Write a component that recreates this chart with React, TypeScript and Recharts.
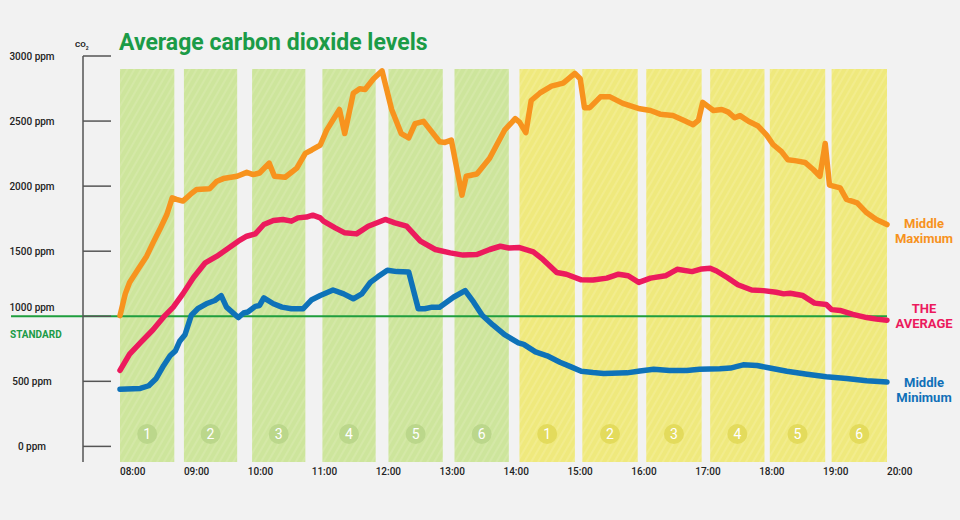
import { LabelList, Line, LineChart, ReferenceArea, ReferenceLine, XAxis, YAxis } from 'recharts';

// time = minutes after 08:00, value = ppm CO2
const maxPoints: [number, number][] = [
  [0, 1005], [5, 1174], [9, 1260], [17, 1361], [25, 1462], [31, 1564], [38, 1679], [44, 1782], [49, 1910],
  [53, 1898], [59, 1885], [66, 1936], [72, 1975], [84, 1979], [91, 2038], [97, 2058], [110, 2076], [119, 2106],
  [125, 2089], [131, 2101], [140, 2177], [145, 2076], [155, 2068], [166, 2139], [174, 2252], [180, 2278],
  [188, 2316], [194, 2430], [206, 2589], [211, 2404], [219, 2714], [225, 2748], [230, 2742], [238, 2825],
  [246, 2886], [255, 2589], [264, 2404], [271, 2371], [277, 2480], [285, 2498], [289, 2455], [300, 2341],
  [305, 2336], [311, 2354], [321, 1931], [325, 2076], [335, 2093], [347, 2214], [361, 2430], [371, 2519],
  [375, 2492], [381, 2411], [386, 2658], [394, 2714], [405, 2769], [416, 2792], [427, 2867], [432, 2825],
  [436, 2603], [441, 2603], [451, 2686], [460, 2686], [472, 2636], [488, 2594], [498, 2581], [507, 2553],
  [519, 2542], [529, 2506], [538, 2472], [543, 2506], [547, 2644], [557, 2581], [565, 2589], [571, 2569],
  [577, 2525], [582, 2542], [590, 2498], [599, 2462], [607, 2392], [613, 2320], [621, 2265], [627, 2202],
  [635, 2194], [643, 2182], [651, 2126], [657, 2076], [662, 2328], [666, 2008], [676, 1987], [682, 1898],
  [692, 1872], [701, 1795], [710, 1744], [720, 1705],
];

const avgPoints: [number, number][] = [
  [0, 584], [9, 709], [19, 796], [31, 896], [41, 995], [50, 1070], [59, 1172], [69, 1298], [80, 1411],
  [91, 1462], [100, 1513], [111, 1577], [119, 1615], [127, 1633], [135, 1705], [144, 1736], [153, 1744],
  [161, 1731], [167, 1756], [175, 1762], [181, 1777], [188, 1756], [191, 1731], [202, 1679], [211, 1641],
  [222, 1633], [233, 1692], [249, 1744], [258, 1718], [269, 1692], [282, 1577], [296, 1513], [310, 1487],
  [322, 1470], [335, 1475], [347, 1513], [357, 1538], [365, 1525], [375, 1528], [388, 1495], [397, 1437],
  [410, 1336], [419, 1323], [433, 1280], [444, 1278], [457, 1293], [468, 1323], [477, 1311], [487, 1260],
  [498, 1293], [512, 1311], [523, 1361], [537, 1343], [546, 1364], [554, 1369], [560, 1348], [570, 1298],
  [580, 1242], [593, 1202], [604, 1197], [616, 1184], [623, 1172], [629, 1177], [641, 1159], [652, 1101],
  [663, 1091], [668, 1051], [676, 1045], [688, 1015], [701, 990], [710, 978], [720, 970],
];

const minPoints: [number, number][] = [
  [0, 439], [19, 445], [27, 466], [34, 522], [41, 622], [47, 696], [52, 734], [56, 808], [61, 858],
  [67, 1008], [73, 1058], [81, 1096], [89, 1121], [95, 1159], [100, 1070], [111, 990], [116, 1025],
  [120, 1033], [127, 1076], [131, 1083], [135, 1141], [144, 1096], [152, 1070], [161, 1058], [172, 1058],
  [180, 1127], [188, 1159], [200, 1202], [210, 1172], [219, 1134], [227, 1172], [235, 1260], [242, 1303],
  [251, 1354], [260, 1343], [271, 1341], [280, 1058], [286, 1058], [293, 1070], [300, 1070], [313, 1146],
  [324, 1197], [332, 1108], [340, 1008], [350, 933], [361, 858], [374, 796], [379, 784], [390, 726],
  [401, 696], [413, 647], [424, 609], [433, 577], [444, 567], [454, 560], [476, 565], [488, 580],
  [501, 592], [516, 584], [532, 584], [544, 592], [563, 597], [573, 602], [585, 627], [598, 622],
  [610, 602], [626, 577], [645, 554], [663, 535], [682, 522], [701, 505], [720, 494],
];

const hourTicks = [0, 60, 120, 180, 240, 300, 360, 420, 480, 540, 600, 660, 720];
const hourLabels = ['08:00', '09:00', '10:00', '11:00', '12:00', '13:00', '14:00', '15:00', '16:00', '17:00', '18:00', '19:00', '20:00'];
const ppmTicks = [0, 500, 1000, 1500, 2000, 2500, 3000];
const standardPpm = 1000;

// lessons: morning shift (green) and afternoon shift (yellow)
const lessonStart = [0, 60, 124, 190, 252, 314, 375, 434, 494, 554, 610, 668];
const lessonEnd = [51, 110, 174, 240, 303, 365, 427, 486, 546, 605, 662, 720];
const lessonNo = [1, 2, 3, 4, 5, 6, 1, 2, 3, 4, 5, 6];
const lessonShift = ['am', 'am', 'am', 'am', 'am', 'am', 'pm', 'pm', 'pm', 'pm', 'pm', 'pm'];

const FONT = 'Roboto, "Open Sans", sans-serif';
const ORANGE = '#f7931e';
const PINK = '#ec1a5d';
const BLUE = '#0e72b8';
const GREEN = '#1b9b47';

const toRows = (pts: [number, number][]) => pts.map(([t, v]) => ({ t, v }));

function PpmTick({ x, y, payload }: any) {
  const lift = payload.value === standardPpm ? -9 : 0;
  return (
    <g>
      <line x1={x} x2={x + 28} y1={y} y2={y} stroke="#555" strokeWidth={1.5} />
      <text x={x - 51} y={y + lift} dy="0.35em" textAnchor="middle" fontFamily={FONT} fontSize={10} fontWeight={500} fill="#222">
        {payload.value} ppm
      </text>
    </g>
  );
}

function HourTick({ x, y, payload }: any) {
  return (
    <text x={x} y={y} dy="0.71em" textAnchor="start" fontFamily={FONT} fontSize={10} fontWeight={500} fill="#222">
      {hourLabels[hourTicks.indexOf(payload.value)]}
    </text>
  );
}

function endLabel(lines: string[], color: string, offsets: number[], last: number) {
  return (props: any) => {
    if (props.index !== last) return null;
    const px = props.x ?? props.viewBox?.x;
    const py = props.y ?? props.viewBox?.y;
    return (
      <g>
        {lines.map((s, i) => (
          <text key={s} x={px + 37} y={py + offsets[i]} dy="0.35em" textAnchor="middle" fontFamily={FONT} fontSize={13} fontWeight={700} fill={color}>
            {s}
          </text>
        ))}
      </g>
    );
  };
}

function LessonBadge(no: number, shift: string) {
  return (props: any) => {
    const vb = props.viewBox;
    const cx = vb.x + vb.width / 2;
    const cy = vb.y + vb.height - 28;
    return (
      <g>
        <circle cx={cx} cy={cy} r={10} fill={shift === 'am' ? '#bbd78b' : '#e3db5c'} />
        <text x={cx} y={cy} dy="0.36em" textAnchor="middle" fontFamily={FONT} fontSize={14} fill="#fff">
          {no}
        </text>
      </g>
    );
  };
}

export default function App() {
  return (
    <div style={{ position: 'absolute', left: 0, top: 0, width: 960, height: 520, background: '#f2f2f2', fontFamily: FONT }}>
      <div style={{ position: 'absolute', left: 119, top: 31, fontSize: 23, lineHeight: 1, fontWeight: 700, color: GREEN }}>
        Average carbon dioxide levels
      </div>
      <div style={{ position: 'absolute', left: 75, top: 41, fontSize: 8, lineHeight: 1, fontWeight: 700, color: '#222' }}>
        CO<sub style={{ fontSize: 5 }}>2</sub>
      </div>
      <LineChart width={960} height={520} margin={{ top: 56, right: 73, bottom: 28, left: 0 }}>
        <defs>
          <pattern id="hatch-am" width="6" height="6" patternUnits="userSpaceOnUse" patternTransform="rotate(30)">
            <rect width="6" height="6" fill="#cde59c" />
            <line x1="1" y1="0" x2="1" y2="6" stroke="#d7eaab" strokeWidth="1.5" />
          </pattern>
          <pattern id="hatch-pm" width="6" height="6" patternUnits="userSpaceOnUse" patternTransform="rotate(30)">
            <rect width="6" height="6" fill="#efe97d" />
            <line x1="1" y1="0" x2="1" y2="6" stroke="#f3ee93" strokeWidth="1.5" />
          </pattern>
        </defs>
        <XAxis
          type="number"
          dataKey="t"
          domain={[0, 720]}
          ticks={hourTicks}
          interval={0}
          padding={{ left: 37, right: 0 }}
          axisLine={false}
          tickLine={false}
          tickSize={0}
          tickMargin={6}
          height={30}
          tick={<HourTick />}
        />
        <YAxis
          type="number"
          domain={[-120, 3000]}
          ticks={ppmTicks}
          interval={0}
          width={83}
          axisLine={{ stroke: '#555', strokeWidth: 1.5 }}
          tickLine={false}
          tickSize={0}
          tickMargin={0}
          tick={<PpmTick />}
        />
        {lessonStart.map((s, i) => (
          <ReferenceArea
            key={i}
            x1={s}
            x2={lessonEnd[i]}
            y1={-120}
            y2={2900}
            fill={`url(#hatch-${lessonShift[i]})`}
            fillOpacity={1}
            stroke="none"
            label={LessonBadge(lessonNo[i], lessonShift[i])}
          />
        ))}
        <ReferenceLine
          y={standardPpm}
          shape={(p: any) => (
            <g>
              <line x1={p.x1 - 72} y1={p.y1} x2={p.x2} y2={p.y2} stroke="#1f9e3e" strokeWidth={2} />
              <text x={p.x1 - 73} y={p.y1 + 22} fontFamily={FONT} fontSize={10} fontWeight={700} fill={GREEN}>
                STANDARD
              </text>
            </g>
          )}
        />
        <Line data={toRows(minPoints)} dataKey="v" type="linear" stroke={BLUE} strokeWidth={5.5} strokeLinejoin="round" strokeLinecap="round" dot={false} isAnimationActive={false}>
          <LabelList dataKey="v" content={endLabel(['Middle', 'Minimum'], '#1070b8', [0, 15], minPoints.length - 1)} />
        </Line>
        <Line data={toRows(avgPoints)} dataKey="v" type="linear" stroke={PINK} strokeWidth={5.5} strokeLinejoin="round" strokeLinecap="round" dot={false} isAnimationActive={false}>
          <LabelList dataKey="v" content={endLabel(['THE', 'AVERAGE'], PINK, [-12, 3], avgPoints.length - 1)} />
        </Line>
        <Line data={toRows(maxPoints)} dataKey="v" type="linear" stroke={ORANGE} strokeWidth={5.5} strokeLinejoin="round" strokeLinecap="round" dot={false} isAnimationActive={false}>
          <LabelList dataKey="v" content={endLabel(['Middle', 'Maximum'], ORANGE, [-1, 14], maxPoints.length - 1)} />
        </Line>
      </LineChart>
    </div>
  );
}
